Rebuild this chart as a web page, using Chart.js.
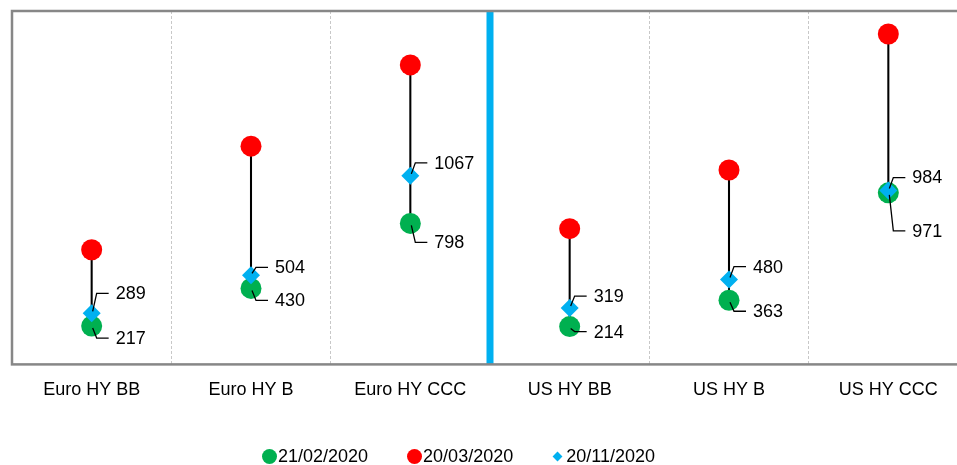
<!DOCTYPE html>
<html lang="en">
<head>
    <meta charset="UTF-8">
    <title>High yield spreads</title>
    <script src="https://cdn.jsdelivr.net/npm/chart.js"></script>
    <style>
        body { margin: 0; overflow: hidden; background: #fff; }
        #wrap { position: relative; width: 957px; height: 465px; overflow: hidden; }
        #spreadChart { position: absolute; left: 0; top: 0; }
        #legend {
            position: absolute; top: 446px; left: 262px;
            display: flex; align-items: center;
            font: 18px "Liberation Sans", Arial, sans-serif;
            color: #000;
        }
        .item { display: flex; align-items: center; margin-right: 39px; }
        .dot { width: 15px; height: 15px; border-radius: 50%; margin-right: 1px; }
        .dia { width: 7px; height: 7px; transform: rotate(45deg); margin: 0 5px 0 2px; }
    </style>
</head>
<body>
    <div id="wrap">
        <canvas id="spreadChart" width="968" height="465"></canvas>
        <div id="legend"></div>
    </div>

    <script>
        // 数据
        const categories = ["Euro HY BB", "Euro HY B", "Euro HY CCC", "US HY BB", "US HY B", "US HY CCC"];
        const spreadFeb = [217, 430, 798, 214, 363, 971];
        const spreadMar = [649, 1235, 1695, 768, 1100, 1870];
        const spreadNov = [289, 504, 1067, 319, 480, 984];
        const seriesNames = ["21/02/2020", "20/03/2020", "20/11/2020"];
        const yMin = 0;
        const yMax = 2000;

        const colors = { feb: "#00B050", mar: "#FF0000", nov: "#00B0F0" };
        const fontFamily = '"Liberation Sans", Arial, sans-serif';

        // 标签的纵向偏移（像素）
        const labelShiftFeb = [12, 12, 19, 5, 11, 38];
        const labelShiftNov = [-20, -8, -13, -12, -13, -13];

        // 图表框 + 蓝色分隔线
        const framePlugin = {
            id: "frame",
            beforeDatasetsDraw(chart) {
                const { ctx, chartArea: a, scales: { x } } = chart;
                ctx.save();
                const mid = (x.getPixelForValue(2) + x.getPixelForValue(3)) / 2;
                ctx.strokeStyle = colors.nov;
                ctx.lineWidth = 7;
                ctx.beginPath();
                ctx.moveTo(mid, a.top);
                ctx.lineTo(mid, a.bottom);
                ctx.stroke();
                ctx.strokeStyle = "#878787";
                ctx.lineWidth = 2.5;
                ctx.strokeRect(a.left, a.top, a.right - a.left, a.bottom - a.top);
                ctx.restore();
            }
        };

        // 数据标签（带引线）
        const labelPlugin = {
            id: "leaderLabels",
            afterDatasetsDraw(chart) {
                const { ctx, scales: { x, y } } = chart;
                ctx.save();
                ctx.strokeStyle = "#000";
                ctx.lineWidth = 1.3;
                ctx.fillStyle = "#000";
                ctx.font = "18px " + fontFamily;
                ctx.textBaseline = "middle";
                const draw = (vals, shifts) => {
                    vals.forEach((v, i) => {
                        const px = x.getPixelForValue(i);
                        const py = y.getPixelForValue(v);
                        const ly = py + shifts[i];
                        ctx.beginPath();
                        ctx.moveTo(px + 1, py + Math.sign(shifts[i]) * 2);
                        ctx.lineTo(px + 5, ly);
                        ctx.lineTo(px + 17, ly);
                        ctx.stroke();
                        ctx.fillText(String(v), px + 24, ly + 1);
                    });
                };
                draw(spreadFeb, labelShiftFeb);
                draw(spreadNov, labelShiftNov);
                ctx.restore();
            }
        };

        Chart.defaults.font.family = fontFamily;
        Chart.defaults.color = "#000";

        const ctx = document.getElementById("spreadChart").getContext("2d");
        new Chart(ctx, {
            data: {
                labels: categories,
                datasets: [
                    {
                        type: "bar",
                        label: "range",
                        data: spreadFeb.map((v, i) => [v, spreadMar[i]]),
                        backgroundColor: "#000",
                        barThickness: 1.4,
                        order: 4
                    },
                    {
                        type: "line",
                        label: seriesNames[0],
                        data: spreadFeb,
                        showLine: false,
                        pointStyle: "circle",
                        pointRadius: 10.5,
                        pointBackgroundColor: colors.feb,
                        pointBorderWidth: 0,
                        order: 3
                    },
                    {
                        type: "line",
                        label: seriesNames[1],
                        data: spreadMar,
                        showLine: false,
                        pointStyle: "circle",
                        pointRadius: 10.5,
                        pointBackgroundColor: colors.mar,
                        pointBorderWidth: 0,
                        order: 2
                    },
                    {
                        type: "line",
                        label: seriesNames[2],
                        data: spreadNov,
                        showLine: false,
                        pointStyle: "rectRot",
                        pointRadius: 9,
                        pointBackgroundColor: colors.nov,
                        pointBorderWidth: 0,
                        order: 1
                    }
                ]
            },
            options: {
                responsive: false,
                animation: false,
                events: [],
                layout: { autoPadding: false, padding: { left: 12, top: 11, right: 0, bottom: 49 } },
                plugins: { legend: { display: false }, tooltip: { enabled: false } },
                scales: {
                    x: {
                        type: "category",
                        offset: true,
                        grid: { offset: true, color: "#c8c8c8", lineWidth: 1, drawTicks: false },
                        border: { display: false, dash: [3, 2] },
                        ticks: { padding: 15, font: { size: 18 }, maxRotation: 0 }
                    },
                    y: { display: false, min: yMin, max: yMax }
                }
            },
            plugins: [framePlugin, labelPlugin]
        });

        // 图例
        const legend = document.getElementById("legend");
        [colors.feb, colors.mar, colors.nov].forEach((c, k) => {
            const item = document.createElement("div");
            item.className = "item";
            const mark = document.createElement("span");
            mark.className = k === 2 ? "dia" : "dot";
            mark.style.background = c;
            const txt = document.createElement("span");
            txt.textContent = seriesNames[k];
            item.appendChild(mark);
            item.appendChild(txt);
            legend.appendChild(item);
        });
    </script>
</body>
</html>
